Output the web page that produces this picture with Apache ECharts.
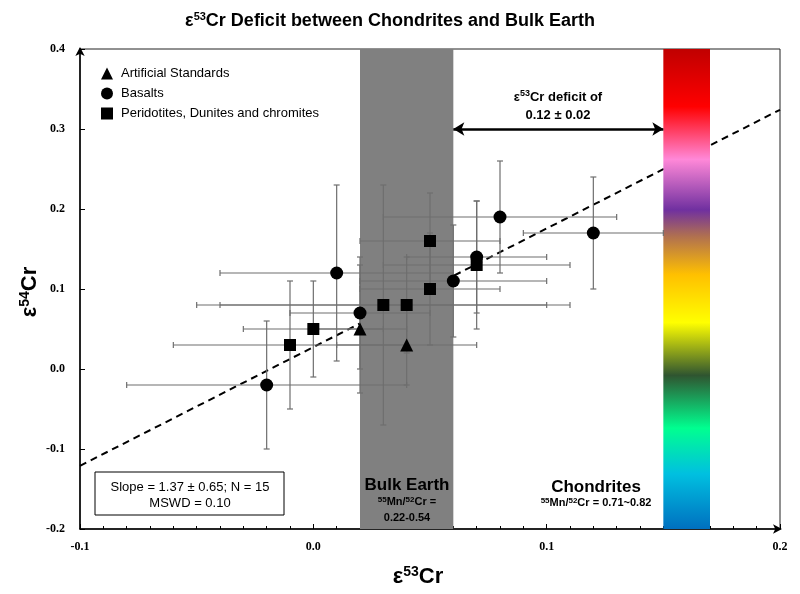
<!DOCTYPE html>
<html>
<head>
<meta charset="utf-8">
<script src="https://cdn.jsdelivr.net/npm/echarts@6/dist/echarts.min.js"></script>
<style>html,body{margin:0;padding:0;background:#fff;}#c{width:800px;height:594px;}</style>
</head>
<body>
<div id="c"></div>
<script>
// ---- data ----
var xTicks = [-0.1, 0.0, 0.1, 0.2];
var yTicks = [-0.2, -0.1, 0.0, 0.1, 0.2, 0.3, 0.4];
var standards = [[0.02, 0.05], [0.04, 0.03]];
var basalts = [[-0.02, -0.02], [0.01, 0.12], [0.02, 0.07], [0.06, 0.11], [0.07, 0.14], [0.08, 0.19], [0.12, 0.17]];
var peridotites = [[-0.01, 0.03], [0.00, 0.05], [0.03, 0.08], [0.04, 0.08], [0.05, 0.10], [0.05, 0.16], [0.07, 0.13]];
// x, y, xLow, xHigh, yLow, yHigh
var errorBars = [
  [0.02, 0.05, 0.00, 0.04, -0.03, 0.13],
  [0.04, 0.03, 0.01, 0.07, -0.02, 0.08],
  [-0.02, -0.02, -0.08, 0.04, -0.10, 0.06],
  [0.01, 0.12, -0.04, 0.06, 0.01, 0.23],
  [0.02, 0.07, -0.01, 0.05, 0.00, 0.14],
  [0.06, 0.11, 0.02, 0.10, 0.04, 0.18],
  [0.07, 0.14, 0.04, 0.10, 0.07, 0.21],
  [0.08, 0.19, 0.03, 0.13, 0.12, 0.26],
  [0.12, 0.17, 0.09, 0.15, 0.10, 0.24],
  [-0.01, 0.03, -0.06, 0.04, -0.05, 0.11],
  [0.00, 0.05, -0.03, 0.03, -0.01, 0.11],
  [0.03, 0.08, -0.05, 0.11, -0.07, 0.23],
  [0.04, 0.08, -0.04, 0.10, 0.02, 0.14],
  [0.05, 0.10, 0.02, 0.08, 0.03, 0.17],
  [0.05, 0.16, 0.02, 0.08, 0.10, 0.22],
  [0.07, 0.13, 0.03, 0.11, 0.05, 0.21]
];
var regression = [[-0.1, -0.121], [0.2, 0.324]];
var bulkEarthBand = [0.02, 0.06];
var chondriteBand = [0.15, 0.17];
var deficitArrow = [[0.06, 0.30], [0.15, 0.30]];

var X_MIN = -0.1, X_MAX = 0.2, Y_MIN = -0.2, Y_MAX = 0.4;

var chart = echarts.init(document.getElementById('c'));

function bandRender(fill) {
  return function (params, api) {
    var p0 = api.coord([api.value(0), Y_MAX]);
    var p1 = api.coord([api.value(1), Y_MIN]);
    return {
      type: 'rect',
      shape: { x: p0[0], y: p0[1], width: p1[0] - p0[0], height: p1[1] - p0[1] },
      style: { fill: fill }
    };
  };
}

var rainbow = new echarts.graphic.LinearGradient(0, 0, 0, 1, [
  { offset: 0.00, color: '#c00000' },
  { offset: 0.12, color: '#ff0000' },
  { offset: 0.23, color: '#ff88d8' },
  { offset: 0.335, color: '#7030a0' },
  { offset: 0.39, color: '#b07050' },
  { offset: 0.47, color: '#ffc000' },
  { offset: 0.57, color: '#ffff00' },
  { offset: 0.68, color: '#2f5530' },
  { offset: 0.79, color: '#00ff90' },
  { offset: 0.885, color: '#00c0e0' },
  { offset: 1.00, color: '#0070c0' }
]);

var sup = { fontSize: 11, fontWeight: 'bold', verticalAlign: 'top', lineHeight: 11, fontFamily: 'Liberation Sans' };

chart.setOption({
  animation: false,
  backgroundColor: '#fff',
  grid: { left: 80, right: 20, top: 49, bottom: 65, show: true, borderColor: '#222', borderWidth: 1 },
  legend: {
    orient: 'vertical', left: 96, top: 62, itemWidth: 12, itemHeight: 12, itemGap: 7,
    textStyle: { fontFamily: 'Liberation Sans', fontSize: 13, color: '#000', padding: [0, 0, 0, 3] },
    data: [
      { name: 'Artificial Standards', icon: 'triangle' },
      { name: 'Basalts', icon: 'circle' },
      { name: 'Peridotites, Dunites and chromites', icon: 'rect' }
    ]
  },
  xAxis: {
    type: 'value', min: X_MIN, max: X_MAX, interval: 0.1,
    axisLine: { onZero: false, lineStyle: { color: '#000', width: 1.5 }, symbol: ['none', 'arrow'], symbolSize: [7, 9], symbolOffset: [0, 2] },
    axisTick: { inside: true, length: 5, lineStyle: { color: '#000' } },
    minorTick: { show: true, splitNumber: 10, length: 3, lineStyle: { color: '#000' } },
    splitLine: { show: false },
    axisLabel: {
      margin: 12, color: '#000', fontFamily: 'Liberation Serif', fontWeight: 'bold', fontSize: 12,
      formatter: function (v) { return xTicks.indexOf(+v.toFixed(1)) >= 0 ? v.toFixed(1) : ''; }
    }
  },
  yAxis: {
    type: 'value', min: Y_MIN, max: Y_MAX, interval: 0.1,
    axisLine: { onZero: false, lineStyle: { color: '#000', width: 1.5 }, symbol: ['none', 'arrow'], symbolSize: [7, 9], symbolOffset: [0, 2] },
    axisTick: { inside: true, length: 5, lineStyle: { color: '#000' } },
    splitLine: { show: false },
    axisLabel: {
      margin: 15, color: '#000', fontFamily: 'Liberation Serif', fontWeight: 'bold', fontSize: 12,
      formatter: function (v) { return yTicks.indexOf(+v.toFixed(1)) >= 0 ? v.toFixed(1) : ''; }
    }
  },
  series: [
    {
      type: 'line', name: 'regression', data: regression, symbol: 'none', z: 1,
      lineStyle: { color: '#000', width: 2, type: [7, 5] }, silent: true
    },
    {
      type: 'custom', name: 'bulk', data: [bulkEarthBand], z: 2, silent: true,
      renderItem: bandRender('#808080')
    },
    {
      type: 'custom', name: 'chondrites', data: [chondriteBand], z: 2, silent: true,
      renderItem: bandRender(rainbow)
    },
    {
      type: 'custom', name: 'errors', data: errorBars, z: 3, silent: true,
      encode: { x: 0, y: 1 },
      renderItem: function (params, api) {
        var x = api.value(0), y = api.value(1);
        var xl = api.coord([api.value(2), y]), xh = api.coord([api.value(3), y]);
        var yl = api.coord([x, api.value(4)]), yh = api.coord([x, api.value(5)]);
        var c = 3;
        var st = { stroke: '#6e6e6e', lineWidth: 1.2 };
        return {
          type: 'group', children: [
            { type: 'line', shape: { x1: xl[0], y1: xl[1], x2: xh[0], y2: xh[1] }, style: st },
            { type: 'line', shape: { x1: yl[0], y1: yl[1], x2: yh[0], y2: yh[1] }, style: st },
            { type: 'line', shape: { x1: xl[0], y1: xl[1] - c, x2: xl[0], y2: xl[1] + c }, style: st },
            { type: 'line', shape: { x1: xh[0], y1: xh[1] - c, x2: xh[0], y2: xh[1] + c }, style: st },
            { type: 'line', shape: { x1: yl[0] - c, y1: yl[1], x2: yl[0] + c, y2: yl[1] }, style: st },
            { type: 'line', shape: { x1: yh[0] - c, y1: yh[1], x2: yh[0] + c, y2: yh[1] }, style: st }
          ]
        };
      }
    },
    {
      type: 'scatter', name: 'Artificial Standards', data: standards, symbol: 'triangle', symbolSize: 13, z: 5,
      itemStyle: { color: '#000', opacity: 1 }
    },
    {
      type: 'scatter', name: 'Basalts', data: basalts, symbol: 'circle', symbolSize: 13, z: 5,
      itemStyle: { color: '#000', opacity: 1 }
    },
    {
      type: 'scatter', name: 'Peridotites, Dunites and chromites', data: peridotites, symbol: 'rect', symbolSize: 12, z: 5,
      itemStyle: { color: '#000', opacity: 1 }
    },
    {
      type: 'line', name: 'deficit', data: [], z: 6, silent: true,
      markLine: {
        silent: true, symbol: ['arrow', 'arrow'], symbolSize: [10, 11],
        lineStyle: { color: '#000', width: 2.5, type: 'solid' },
        label: { show: false },
        data: [[{ coord: deficitArrow[0] }, { coord: deficitArrow[1] }]]
      }
    }
  ],
  graphic: [
    {
      type: 'text', x: 390, y: 21, z: 10,
      style: {
        text: '{b|ε}{s|53}{b|Cr Deficit between Chondrites and Bulk Earth}', align: 'center', verticalAlign: 'middle',
        rich: { b: { fontSize: 18, fontWeight: 'bold', fontFamily: 'Liberation Sans', lineHeight: 20 }, s: sup }
      }
    },
    {
      type: 'text', x: 418, y: 577, z: 10,
      style: {
        text: '{b|ε}{s|53}{b|Cr}', align: 'center', verticalAlign: 'middle',
        rich: { b: { fontSize: 22, fontWeight: 'bold', fontFamily: 'Liberation Sans', lineHeight: 24 }, s: { fontSize: 14, fontWeight: 'bold', verticalAlign: 'top', lineHeight: 14, fontFamily: 'Liberation Sans' } }
      }
    },
    {
      type: 'text', x: 30, y: 292, rotation: Math.PI / 2, z: 10,
      style: {
        text: '{b|ε}{s|54}{b|Cr}', align: 'center', verticalAlign: 'middle',
        rich: { b: { fontSize: 22, fontWeight: 'bold', fontFamily: 'Liberation Sans', lineHeight: 24 }, s: { fontSize: 14, fontWeight: 'bold', verticalAlign: 'top', lineHeight: 14, fontFamily: 'Liberation Sans' } }
      }
    },
    {
      type: 'text', x: 558, y: 97, z: 10,
      style: {
        text: '{b|ε}{s|53}{b|Cr deficit of}', align: 'center', verticalAlign: 'middle',
        rich: { b: { fontSize: 13, fontWeight: 'bold', fontFamily: 'Liberation Sans', lineHeight: 15 }, s: { fontSize: 9, fontWeight: 'bold', verticalAlign: 'top', lineHeight: 9, fontFamily: 'Liberation Sans' } }
      }
    },
    {
      type: 'text', x: 558, y: 115, z: 10,
      style: { text: '0.12 ± 0.02', align: 'center', verticalAlign: 'middle', fontSize: 13, fontWeight: 'bold', fontFamily: 'Liberation Sans', fill: '#000' }
    },
    {
      type: 'rect', z: 10, shape: { x: 95, y: 472, width: 189, height: 43 },
      style: { fill: '#fff', stroke: '#000', lineWidth: 1 }
    },
    {
      type: 'text', x: 190, y: 487, z: 11,
      style: { text: 'Slope = 1.37 ± 0.65; N = 15', align: 'center', verticalAlign: 'middle', fontSize: 13, fontFamily: 'Liberation Sans', fill: '#000' }
    },
    {
      type: 'text', x: 190, y: 503, z: 11,
      style: { text: 'MSWD = 0.10', align: 'center', verticalAlign: 'middle', fontSize: 13, fontFamily: 'Liberation Sans', fill: '#000' }
    },
    {
      type: 'text', x: 407, y: 485, z: 10,
      style: { text: 'Bulk Earth', align: 'center', verticalAlign: 'middle', fontSize: 17, fontWeight: 'bold', fontFamily: 'Liberation Sans', fill: '#000' }
    },
    {
      type: 'text', x: 407, y: 502, z: 10,
      style: {
        text: '{s|55}{b|Mn/}{s|52}{b|Cr =}', align: 'center', verticalAlign: 'middle',
        rich: { b: { fontSize: 11, fontWeight: 'bold', fontFamily: 'Liberation Sans', lineHeight: 13 }, s: { fontSize: 8, fontWeight: 'bold', verticalAlign: 'top', lineHeight: 8, fontFamily: 'Liberation Sans' } }
      }
    },
    {
      type: 'text', x: 407, y: 518, z: 10,
      style: { text: '0.22-0.54', align: 'center', verticalAlign: 'middle', fontSize: 11, fontWeight: 'bold', fontFamily: 'Liberation Sans', fill: '#000' }
    },
    {
      type: 'text', x: 596, y: 487, z: 10,
      style: { text: 'Chondrites', align: 'center', verticalAlign: 'middle', fontSize: 17, fontWeight: 'bold', fontFamily: 'Liberation Sans', fill: '#000' }
    },
    {
      type: 'text', x: 596, y: 503, z: 10,
      style: {
        text: '{s|55}{b|Mn/}{s|52}{b|Cr = 0.71~0.82}', align: 'center', verticalAlign: 'middle',
        rich: { b: { fontSize: 11, fontWeight: 'bold', fontFamily: 'Liberation Sans', lineHeight: 13 }, s: { fontSize: 8, fontWeight: 'bold', verticalAlign: 'top', lineHeight: 8, fontFamily: 'Liberation Sans' } }
      }
    }
  ]
});
</script>
</body>
</html>
